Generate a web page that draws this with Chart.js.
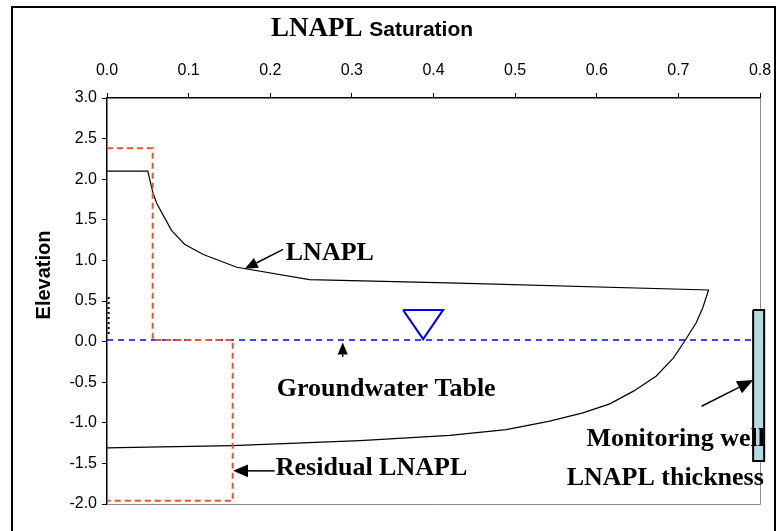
<!DOCTYPE html>
<html>
<head>
<meta charset="utf-8">
<script src="https://cdn.jsdelivr.net/npm/chart.js@4.4.1/dist/chart.umd.min.js"></script>
<style>
  html, body { margin: 0; padding: 0; background: #fff; }
  #wrap { width: 777px; height: 531px; position: relative; }
</style>
</head>
<body>
<div id="wrap"><canvas id="satChart"></canvas></div>
<script>
// LNAPL saturation profile (upper branch, then back down the lower branch)
const lnaplSat  = [0, 0.05, 0.056, 0.061, 0.079, 0.095, 0.118, 0.159, 0.248, 0.43, 0.737,
                   0.730, 0.722, 0.708, 0.694, 0.673, 0.645, 0.616, 0.583, 0.5425, 0.489, 0.42, 0.31, 0.154, 0.05, 0];
const lnaplElev = [2.1, 2.1, 1.84, 1.70, 1.37, 1.20, 1.073, 0.916, 0.764, 0.72, 0.636,
                   0.42, 0.235, 0.01, -0.20, -0.424, -0.61, -0.767, -0.878, -0.98, -1.084, -1.155, -1.22, -1.28, -1.30, -1.31];

// residual LNAPL saturation step
const residualSat  = [0, 0.056, 0.056, 0.154, 0.154, 0];
const residualElev = [2.38, 2.38, 0.02, 0.02, -1.96, -1.96];

// groundwater table and its marker
const waterSat  = [0, 0.79];
const waterElev = [0.02, 0.02];
const markerSat  = [0.3627, 0.4118, 0.3873, 0.3627];
const markerElev = [0.39, 0.39, 0.03, 0.39];

// monitoring well
const wellSat  = [0.7916, 0.8051, 0.8051, 0.7916, 0.7916];
const wellElev = [0.39, 0.39, -1.47, -1.47, 0.39];

// small dotted trace by the elevation axis
const traceSat  = [0.002, 0.002];
const traceElev = [0.55, 0.08];

// callouts: text anchor [sat, elev] and arrow [fromSat, fromElev, toSat, toElev]
const callouts = [
  { text: "LNAPL", at: [0.219, 1.0], align: "left", arrow: [0.2157, 1.135, 0.1688, 0.896], head: 13 },
  { text: "Groundwater Table", at: [0.208, -0.672], align: "left", arrow: [0.2888, -0.189, 0.2888, -0.01], head: 12 },
  { text: "Residual LNAPL", at: [0.2068, -1.644], align: "left", arrow: [0.2055, -1.592, 0.1544, -1.592], head: 15 },
  { text: "Monitoring well", at: [0.806, -1.29], align: "right", arrow: [0.7284, -0.796, 0.7917, -0.474], head: 16 },
  { text: "LNAPL thickness", at: [0.8047, -1.765], align: "right", arrow: null }
];

const pts = (xs, ys) => xs.map((x, i) => ({ x: x, y: ys[i] }));

const SANS = '"Liberation Sans", Arial, sans-serif';
const SERIF = '"Liberation Serif", "Times New Roman", serif';

function arrow(ctx, x1, y1, x2, y2, len) {
  const a = Math.atan2(y2 - y1, x2 - x1);
  const w = len * 0.42;
  const bx = x2 - len * Math.cos(a), by = y2 - len * Math.sin(a);
  ctx.beginPath();
  ctx.moveTo(x1, y1);
  ctx.lineTo(bx, by);
  ctx.stroke();
  ctx.beginPath();
  ctx.moveTo(x2, y2);
  ctx.lineTo(bx + w * Math.sin(a), by - w * Math.cos(a));
  ctx.lineTo(bx - w * Math.sin(a), by + w * Math.cos(a));
  ctx.closePath();
  ctx.fill();
}

const decorations = {
  id: "decorations",
  beforeDatasetsDraw(chart) {
    const { ctx, chartArea: a, scales } = chart;
    ctx.save();

    // right and bottom edges of the plot area
    ctx.strokeStyle = "#8c8c8c";
    ctx.lineWidth = 1;
    ctx.beginPath();
    ctx.moveTo(a.left, a.bottom + 0.5);
    ctx.lineTo(a.right + 0.5, a.bottom + 0.5);
    ctx.lineTo(a.right + 0.5, a.top);
    ctx.stroke();

    // well casing fill, allowed to run past the plot edge like its outline
    ctx.fillStyle = "#b4dcdf";
    ctx.beginPath();
    wellSat.forEach((x, i) => {
      const px = scales.x.getPixelForValue(x), py = scales.y.getPixelForValue(wellElev[i]);
      if (i === 0) ctx.moveTo(px, py); else ctx.lineTo(px, py);
    });
    ctx.closePath();
    ctx.fill();
    ctx.restore();
  },
  afterDraw(chart) {
    const { ctx, scales } = chart;
    const sx = v => scales.x.getPixelForValue(v);
    const sy = v => scales.y.getPixelForValue(v);
    ctx.save();

    // outer frame
    ctx.strokeStyle = "#000";
    ctx.lineWidth = 2;
    ctx.strokeRect(12, 7, 763, 540);

    // title: serif "LNAPL" followed by sans "Saturation"
    ctx.fillStyle = "#000";
    ctx.textBaseline = "alphabetic";
    ctx.textAlign = "left";
    ctx.font = "bold 27px " + SERIF;
    const w1 = ctx.measureText("LNAPL ").width;
    ctx.font = "bold 21px " + SANS;
    const w2 = ctx.measureText("Saturation").width;
    const tx = 372 - (w1 + w2) / 2;
    ctx.font = "bold 27px " + SERIF;
    ctx.fillText("LNAPL", tx, 36);
    ctx.font = "bold 21px " + SANS;
    ctx.fillText("Saturation", tx + w1, 36);

    // vertical axis label
    ctx.save();
    ctx.translate(50, 275);
    ctx.rotate(-Math.PI / 2);
    ctx.textAlign = "center";
    ctx.font = "bold 20px " + SANS;
    ctx.fillText("Elevation", 0, 0);
    ctx.restore();

    // callout arrows and labels
    ctx.lineWidth = 1.5;
    ctx.strokeStyle = "#000";
    ctx.fillStyle = "#000";
    callouts.forEach(c => {
      if (c.arrow) {
        arrow(ctx, sx(c.arrow[0]), sy(c.arrow[1]), sx(c.arrow[2]), sy(c.arrow[3]), c.head);
      }
      ctx.font = "bold 26px " + SERIF;
      ctx.textAlign = c.align;
      ctx.fillText(c.text, sx(c.at[0]), sy(c.at[1]));
    });

    ctx.restore();
  }
};

const line = (data, color, width, dash, extra) => Object.assign({
  data: data,
  showLine: true,
  borderColor: color,
  borderWidth: width,
  borderDash: dash,
  pointRadius: 0,
  tension: 0,
  fill: false
}, extra || {});

new Chart(document.getElementById("satChart"), {
  type: "scatter",
  data: {
    datasets: [
      line(pts(wellSat, wellElev), "#000", 2, [], { clip: false }),
      line(pts(residualSat, residualElev), "#f4502a", 2, [6, 4]),
      line(pts(lnaplSat, lnaplElev), "#000", 1.2, []),
      line(pts(markerSat, markerElev), "#0000ff", 2, []),
      line(pts(waterSat, waterElev), "#0000ff", 1.6, [6, 5]),
      line(pts(traceSat, traceElev), "#000", 2, [2, 3])
    ]
  },
  options: {
    responsive: true,
    maintainAspectRatio: false,
    animation: false,
    layout: { padding: { left: 0, top: 0, right: 17, bottom: 27 } },
    plugins: {
      legend: { display: false },
      tooltip: { enabled: false },
      title: { display: false }
    },
    scales: {
      x: {
        type: "linear",
        position: "top",
        min: 0,
        max: 0.8,
        afterFit: s => { s.height = 98; s.paddingLeft = 0; s.paddingRight = 0; },
        border: { color: "#000", width: 1.5 },
        grid: { drawOnChartArea: false, drawTicks: true, tickLength: 5, tickColor: "#000" },
        ticks: {
          stepSize: 0.1,
          padding: 13,
          color: "#000",
          font: { family: SANS, size: 16 },
          maxRotation: 0,
          callback: v => v.toFixed(1)
        }
      },
      y: {
        type: "linear",
        min: -2,
        max: 3,
        afterFit: s => { s.width = 107; s.paddingTop = 0; s.paddingBottom = 0; },
        border: { color: "#000", width: 1.5 },
        grid: { drawOnChartArea: false, drawTicks: true, tickLength: 5, tickColor: "#000" },
        ticks: {
          stepSize: 0.5,
          padding: 5,
          color: "#000",
          font: { family: SANS, size: 16 },
          callback: v => v.toFixed(1)
        }
      }
    }
  },
  plugins: [decorations]
});
</script>
</body>
</html>
